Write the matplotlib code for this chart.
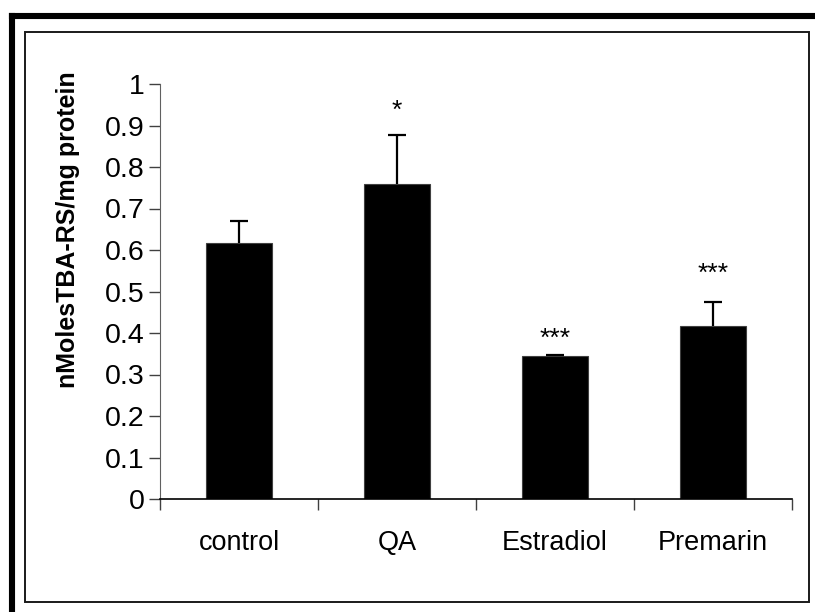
import matplotlib
matplotlib.use("Agg")
import matplotlib.pyplot as plt
from matplotlib.lines import Line2D
from matplotlib.patches import Rectangle

plt.rcParams['font.family'] = ['Liberation Sans', 'DejaVu Sans']

# Data
groups = ["control", "QA", "Estradiol", "Premarin"]
means = [0.617, 0.760, 0.345, 0.416]
errors = [0.053, 0.117, 0.002, 0.058]
marks = ["", "*", "***", "***"]
mark_y = [None, 0.935, 0.386, 0.542]
y_ticks = [0, 0.1, 0.2, 0.3, 0.4, 0.5, 0.6, 0.7, 0.8, 0.9, 1]
y_tick_labels = ["0", "0.1", "0.2", "0.3", "0.4", "0.5", "0.6", "0.7", "0.8", "0.9", "1"]

W, H = 815, 612
fig = plt.figure(figsize=(W / 100, H / 100), dpi=100)
fig.patch.set_facecolor("white")

# Outer heavy frame (left and top edges)
fig.add_artist(Line2D([12 / W, 12 / W], [0, 1 - 16 / H], transform=fig.transFigure,
                      color="black", lw=4.4, solid_capstyle="projecting"))
fig.add_artist(Line2D([12 / W, 1], [1 - 16 / H, 1 - 16 / H], transform=fig.transFigure,
                      color="black", lw=4.4, solid_capstyle="projecting"))
# Inner chart-area frame
fig.add_artist(Rectangle((25 / W, 1 - 602 / H), (809 - 25) / W, (602 - 32) / H,
                         transform=fig.transFigure, fill=False, edgecolor="#1a1a1a", lw=1.4))

ax = fig.add_axes([160 / W, 1 - 499 / H, (792 - 160) / W, (499 - 84) / H])
x = list(range(len(groups)))
ax.bar(x, means, width=0.42, color="black", edgecolor="#404040", linewidth=0.8, zorder=2)

# Upper-only error bars with a cap at the top
tops = [m + e for m, e in zip(means, errors)]
ax.vlines(x, means, tops, colors="black", linewidth=1.6, zorder=3)
ax.hlines(tops, [xi - 0.055 for xi in x], [xi + 0.055 for xi in x],
          colors="black", linewidth=1.6, zorder=3)

for xi, m, my in zip(x, marks, mark_y):
    if m:
        ax.text(xi, my, m, ha="center", va="center", fontsize=19)

ax.set_xlim(-0.5, len(groups) - 0.5)
ax.set_ylim(0, 1)
ax.set_yticks(y_ticks)
ax.set_yticklabels(y_tick_labels, fontsize=20.5)
ax.set_xticks(x)
ax.set_xticklabels(groups, fontsize=19.5)
ax.tick_params(axis="x", length=0, pad=22)
ax.set_xticks([i + 0.5 for i in range(-1, len(groups))], minor=True)
ax.tick_params(axis="x", which="minor", length=8, color="#404040", width=1)
ax.tick_params(axis="y", length=8, color="#404040", width=1, pad=3)

for side in ("top", "right"):
    ax.spines[side].set_visible(False)
ax.spines["left"].set_color("#606060")
ax.spines["bottom"].set_color("black")
ax.spines["bottom"].set_linewidth(1.2)

ax.set_ylabel("nMolesTBA-RS/mg protein", fontsize=18, fontweight="bold")
ax.yaxis.set_label_coords(-0.127, 0.65)

fig.savefig("out.png", dpi=100, facecolor="white")
